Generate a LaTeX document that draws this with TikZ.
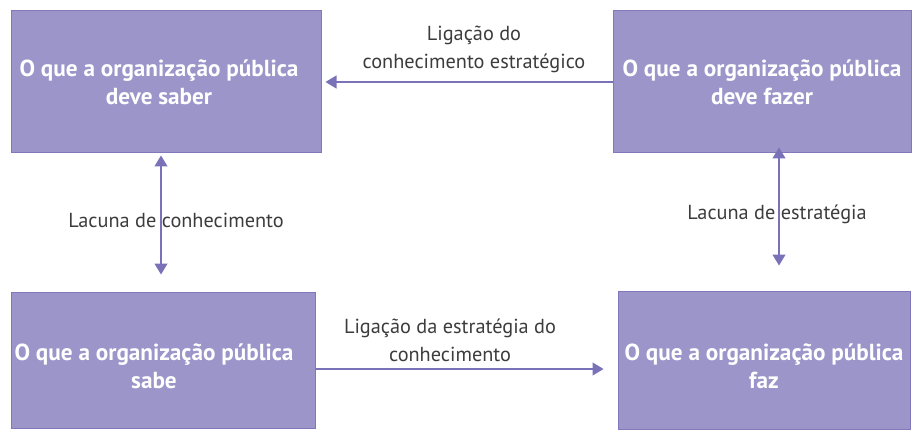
\documentclass[tikz,border=0pt]{standalone}
\usepackage{fontspec}
\setmainfont{PT Sans}
\usetikzlibrary{arrows.meta}
\definecolor{boxfill}{RGB}{156,149,201}
\definecolor{boxline}{RGB}{128,120,186}
\definecolor{arrcol}{RGB}{122,114,184}
\definecolor{lblcol}{RGB}{60,60,60}
\begin{document}
\begin{tikzpicture}[x=1pt,y=-1pt,
  box/.style={draw=boxline, line width=1pt, fill=boxfill, inner sep=0pt},
  boxtext/.style={text=white, align=center, font=\bfseries\fontsize{23.2}{28}\selectfont, inner sep=0pt},
  lbl/.style={text=lblcol, align=center, font=\fontsize{20.3}{28}\selectfont, inner sep=0pt},
  arr/.style={draw=arrcol, line width=1.2pt, -{Triangle[length=11pt,width=13pt]}},
  dbl/.style={draw=arrcol, line width=1.2pt, {Triangle[length=11pt,width=13pt]}-{Triangle[length=11pt,width=13pt]}}]
\useasboundingbox (0,0) rectangle (912,430);
\node[box, minimum width=310pt, minimum height=142pt] (tl) at (166,82) {};
\node[box, minimum width=298pt, minimum height=142pt] (tr) at (762,82) {};
\node[box, minimum width=304pt, minimum height=136pt] (bl) at (163,360) {};
\node[box, minimum width=292pt, minimum height=138pt] (br) at (764,360) {};
\node[boxtext] (tlt) at (159,82) {O que a organização pública\\deve saber};
\node[boxtext] (trt) at (762,82) {O que a organização pública\\deve fazer};
\node[boxtext] (blt) at (154,366) {O que a organização pública\\sabe};
\node[boxtext] (brt) at (764,366) {O que a organização pública\\faz};
\node[lbl] (l1) at (474,49) {Ligação do\\conhecimento estratégico};
\node[lbl] (l2) at (450,340) {Ligação da estratégia do\\conhecimento};
\node[lbl] (l3) at (176,220) {Lacuna de conhecimento};
\node[lbl] (l4) at (777,214) {Lacuna de estratégia};
\draw[arr] (tr.west) -- ([xshift=4pt]tl.east);
\draw[arr] ([yshift=-9pt]bl.east) -- ([xshift=-14pt,yshift=-9pt]br.west);
\draw[dbl] ([xshift=-5pt,yshift=-2pt]tl.south) -- ([xshift=-2pt,yshift=17pt]bl.north);
\draw[dbl] ([xshift=17pt,yshift=6pt]tr.south) -- ([xshift=15pt,yshift=25pt]br.north);
\end{tikzpicture}
\end{document}
